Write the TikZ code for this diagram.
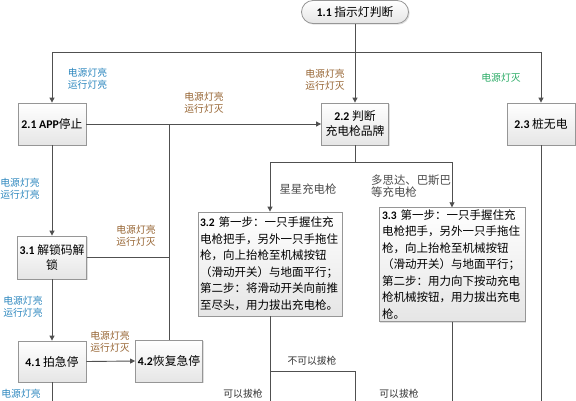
\documentclass[tikz,border=0pt]{standalone}
\usepackage{fontspec}
\setmainfont{Noto Sans CJK SC}
\newfontfamily\numf{Carlito}
\usetikzlibrary{arrows.meta,shadows}
\definecolor{lblblue}{RGB}{45,135,190}
\definecolor{lblbrown}{RGB}{150,100,50}
\definecolor{lblgreen}{RGB}{40,170,100}
\definecolor{linec}{RGB}{80,80,80}
\definecolor{boxline}{RGB}{150,150,150}
\tikzset{
  box/.style={draw=boxline, line width=0.8pt, top color=white, bottom color=black!10,
    drop shadow={shadow xshift=1.2pt, shadow yshift=-1.2pt, fill=black!25},
    inner sep=2pt, align=center, font=\fontsize{11.8}{15}\selectfont},
  bigbox/.style={box, text width=140pt, align=left, inner sep=2pt,
    font=\fontsize{11.5}{16.5}\selectfont},
  conn/.style={draw=linec, line width=0.9pt},
  arr/.style={conn, -{Triangle[length=5pt,width=5pt]}},
  lbl/.style={font=\fontsize{9.8}{11.5}\selectfont, align=center, inner sep=0pt},
  lblbig/.style={font=\fontsize{11.4}{13}\selectfont, align=left, inner sep=0pt, text=black!70},
}
\begin{document}
\begin{tikzpicture}[x=1pt,y=-1pt]
\useasboundingbox (0,0) rectangle (576,400);
% nodes
\node[box, rounded corners=11.5pt, minimum width=107pt, minimum height=23pt] (n11) at (355,12) {{\numf\bfseries 1.1} 指示灯判断};
\node[box, minimum width=68pt, minimum height=42pt] (n21) at (52,124) {{\numf\bfseries 2.1 APP}停止};
\node[box, minimum width=67pt, minimum height=42pt] (n22) at (355,124) {{\numf\bfseries 2.2} 判断\\充电枪品牌};
\node[box, minimum width=68pt, minimum height=42pt] (n23) at (541,124) {{\numf\bfseries 2.3} 桩无电};
\node[box, minimum width=68pt, minimum height=43pt] (n31) at (52,257.5) {{\numf\bfseries 3.1} 解锁码解\\锁};
\node[box, minimum width=68pt, minimum height=41pt] (n41) at (52,361.5) {{\numf\bfseries 4.1} 拍急停};
\node[box, minimum width=67pt, minimum height=42pt] (n42) at (169,361) {{\numf\bfseries 4.2}恢复急停};
\node[bigbox, minimum width=144pt, minimum height=104pt] (n32) at (270,264) {{\numf\bfseries 3.2} 第一步：一只手握住充\\电枪把手，另外一只手拖住\\枪，向上抬枪至机械按钮\\（滑动开关）与地面平行；\\第二步：将滑动开关向前推\\至尽头，用力拔出充电枪。};
\node[bigbox, minimum width=146pt, minimum height=103pt] (n33) at (452,264.5) {{\numf\bfseries 3.3} 第一步：一只手握住充\\电枪把手，另外一只手拖住\\枪，向上抬枪至机械按钮\\（滑动开关）与地面平行；\\第二步：用力向下按动充电\\枪机械按钮，用力拔出充电\\枪。};
% junctions
\coordinate (j1) at (355,52);
\coordinate (j21) at (52,52);
\coordinate (j23) at (541,52);
\coordinate (j4) at (169,124);
\coordinate (j5) at (355,162);
\coordinate (j32) at (270,162);
\coordinate (j33) at (452,162);
\coordinate (j6) at (270,371);
\coordinate (j7) at (355,371);
\coordinate (e41) at (52,410);
\coordinate (e23) at (541,410);
\coordinate (e32) at (270,410);
\coordinate (e7) at (355,410);
\coordinate (e33) at (452,410);
% connectors
\draw[conn] (n11.south) -- (j1);
\draw[conn] (j21) -- (j23);
\draw[arr] (j21) -- (n21.north);
\draw[arr] (j1) -- (n22.north);
\draw[arr] (j23) -- (n23.north);
\draw[arr] (n21.east) -- (n22.west);
\draw[conn] (n31.east) -| (j4);
\draw[conn] (n42.north) -- (j4);
\draw[arr] (n21.south) -- (n31.north);
\draw[arr] (n31.south) -- (n41.north);
\draw[arr] (n41.east) -- (n42.west);
\draw[conn] (n41.south) -- (e41);
\draw[conn] (n22.south) -- (j5);
\draw[conn] (j32) -- (j33);
\draw[arr] (j32) -- (n32.north);
\draw[arr] (j33) -- (n33.north);
\draw[conn] (n23.south) -- (e23);
\draw[conn] (n32.south) -- (e32);
\draw[conn] (j6) -- (j7) -- (e7);
\draw[conn] (n33.south) -- (e33);
% labels
\node[lbl, text=lblblue] (l1) at (87.5,79) {电源灯亮\\运行灯亮};
\node[lbl, text=lblbrown] (l2) at (325,80) {电源灯亮\\运行灯灭};
\node[lbl, text=lblgreen] (l3) at (501,78) {电源灯灭};
\node[lbl, text=lblbrown] (l4) at (204,103) {电源灯亮\\运行灯灭};
\node[lbl, text=lblblue] (l5) at (20,189) {电源灯亮\\运行灯亮};
\node[lbl, text=lblbrown] (l6) at (136,236) {电源灯亮\\运行灯灭};
\node[lbl, text=lblblue] (l7) at (23,307) {电源灯亮\\运行灯亮};
\node[lbl, text=lblbrown] (l8) at (110,342) {电源灯亮\\运行灯灭};
\node[lbl, text=lblblue] (l9) at (21,393.5) {电源灯亮};
\node[lblbig] (l10) at (308,189) {星星充电枪};
\node[lblbig, anchor=north west, font=\fontsize{11.4}{12}\selectfont] (l11) at (371,175) {多思达、巴斯巴\\等充电枪};
\node[lbl, text=black!80] (l12) at (312,361) {不可以拔枪};
\node[lbl, text=black!80] (l13) at (243,393.5) {可以拔枪};
\node[lbl, text=black!80] (l14) at (399,393.5) {可以拔枪};
\end{tikzpicture}
\end{document}
